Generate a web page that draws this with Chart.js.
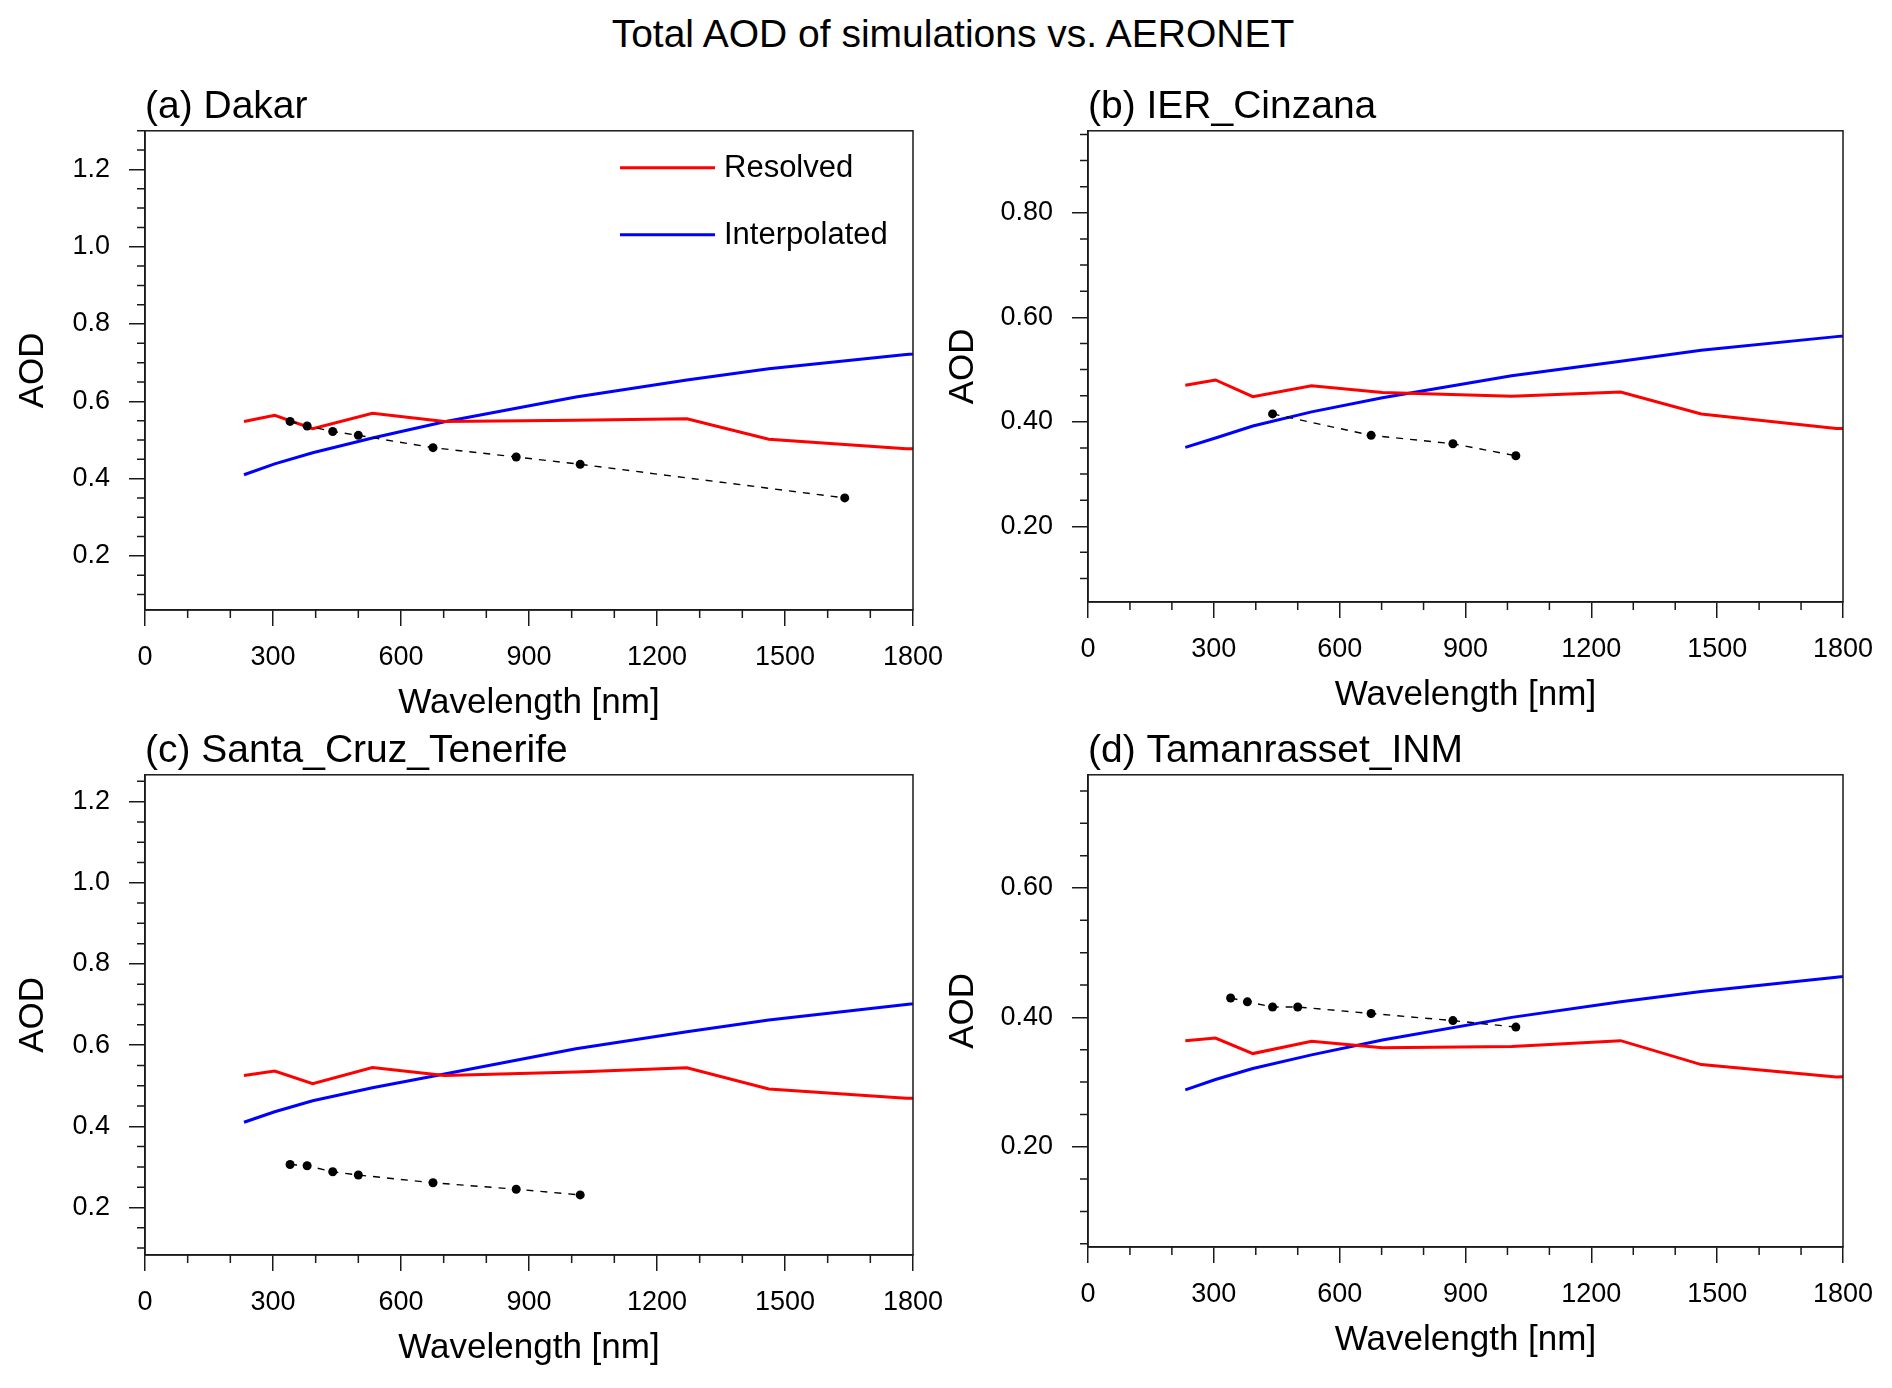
<!DOCTYPE html>
<html>
<head>
<meta charset="utf-8">
<title>Total AOD of simulations vs. AERONET</title>
<script src="https://cdn.jsdelivr.net/npm/chart.js@4.4.1/dist/chart.umd.min.js"></script>
<style>
  html, body { margin: 0; padding: 0; background: #fff; }
  #page { position: relative; width: 1892px; height: 1388px; overflow: hidden; font-family: "Liberation Sans", Arial, sans-serif; }
  #page canvas { position: absolute; left: 0; top: 0; }
  #mainTitle { position: absolute; left: 953px; top: 34px; transform: translate(-50%, -50%); font-size: 39px; white-space: nowrap; color: #000; }
</style>
</head>
<body>
<div id="page">
  <div id="mainTitle">Total AOD of simulations vs. AERONET</div>
  <canvas id="panelA" width="1892" height="1388"></canvas>
  <canvas id="panelB" width="1892" height="1388"></canvas>
  <canvas id="panelC" width="1892" height="1388"></canvas>
  <canvas id="panelD" width="1892" height="1388"></canvas>
</div>
<script>
// model band centres (nm), last one sits past the axis end
const modelWavelength = [232, 304, 393, 533, 702, 1010, 1270, 1462, 1784, 2151];
const wavelengthTicks = [0, 300, 600, 900, 1200, 1500, 1800];

// (a) Dakar
const dakarResolved = [0.548, 0.564, 0.529, 0.569, 0.548, 0.551, 0.555, 0.502, 0.477, 0.482];
const dakarInterpolated = [0.410, 0.438, 0.467, 0.505, 0.547, 0.611, 0.655, 0.684, 0.721, 0.758];
const dakarAeronetWl = [340, 380, 440, 500, 675, 870, 1020, 1640];
const dakarAeronet = [0.548, 0.536, 0.522, 0.512, 0.480, 0.456, 0.437, 0.350];
const dakarTicks = [0.2, 0.4, 0.6, 0.8, 1.0, 1.2];

// (b) IER_Cinzana
const cinzanaResolved = [0.470, 0.480, 0.448, 0.469, 0.456, 0.449, 0.457, 0.415, 0.387, 0.392];
const cinzanaInterpolated = [0.351, 0.369, 0.392, 0.419, 0.446, 0.488, 0.516, 0.537, 0.563, 0.586];
const cinzanaAeronetWl = [440, 675, 870, 1020];
const cinzanaAeronet = [0.415, 0.374, 0.358, 0.335];
const cinzanaTicks = [0.20, 0.40, 0.60, 0.80];

// (c) Santa_Cruz_Tenerife
const tenerifeResolved = [0.525, 0.536, 0.505, 0.545, 0.525, 0.534, 0.544, 0.492, 0.469, 0.474];
const tenerifeInterpolated = [0.410, 0.436, 0.463, 0.495, 0.529, 0.591, 0.633, 0.662, 0.700, 0.741];
const tenerifeAeronetWl = [340, 380, 440, 500, 675, 870, 1020];
const tenerifeAeronet = [0.306, 0.303, 0.288, 0.280, 0.261, 0.245, 0.231];
const tenerifeTicks = [0.2, 0.4, 0.6, 0.8, 1.0, 1.2];

// (d) Tamanrasset_INM
const tamanrassetResolved = [0.364, 0.368, 0.344, 0.363, 0.353, 0.355, 0.364, 0.327, 0.308, 0.313];
const tamanrassetInterpolated = [0.288, 0.304, 0.321, 0.342, 0.365, 0.400, 0.424, 0.440, 0.462, 0.486];
const tamanrassetAeronetWl = [340, 380, 440, 500, 675, 870, 1020];
const tamanrassetAeronet = [0.430, 0.424, 0.416, 0.416, 0.406, 0.395, 0.385];
const tamanrassetTicks = [0.20, 0.40, 0.60];

const AXIS_COLOR = '#1a1a1a';
const MINOR_LEN = 8;

Chart.defaults.font.family = '"Liberation Sans", Arial, sans-serif';
Chart.defaults.color = '#000';

// box round the plot + minor tick marks (100 nm on x, 0.05 on y)
const frameAndMinorTicks = {
    id: 'frameAndMinorTicks',
    afterDatasetsDraw(chart) {
        const { ctx, chartArea: a, scales: { x, y } } = chart;
        ctx.save();
        ctx.strokeStyle = AXIS_COLOR;
        ctx.lineWidth = 1.5;
        ctx.strokeRect(a.left, a.top, a.right - a.left, a.bottom - a.top);
        ctx.beginPath();
        for (let v = 100; v < x.max; v += 100) {
            if (v % 300 === 0) continue;
            const px = x.getPixelForValue(v);
            ctx.moveTo(px, a.bottom);
            ctx.lineTo(px, a.bottom + MINOR_LEN);
        }
        for (let k = Math.ceil(y.min * 20); k <= Math.floor(y.max * 20); k++) {
            if (k % 4 === 0) continue;
            const py = y.getPixelForValue(k / 20);
            ctx.moveTo(a.left, py);
            ctx.lineTo(a.left - MINOR_LEN, py);
        }
        ctx.stroke();
        ctx.restore();
    }
};

// legend sitting inside the plot of panel (a)
const insideLegend = {
    id: 'insideLegend',
    afterDraw(chart, args, opts) {
        if (!opts.show) return;
        const { ctx, chartArea: a } = chart;
        ctx.save();
        ctx.font = '31px "Liberation Sans", Arial, sans-serif';
        ctx.textBaseline = 'middle';
        ctx.fillStyle = '#000';
        let row = 0;
        chart.data.datasets.forEach(ds => {
            if (!ds.inLegend) return;
            const yy = a.top + opts.top + row * opts.rowGap;
            const x0 = a.left + opts.left;
            ctx.strokeStyle = ds.borderColor;
            ctx.lineWidth = ds.borderWidth;
            ctx.beginPath();
            ctx.moveTo(x0, yy);
            ctx.lineTo(x0 + opts.lineLen, yy);
            ctx.stroke();
            ctx.fillText(ds.label, x0 + opts.lineLen + 9, yy + 1);
            row++;
        });
        ctx.restore();
    }
};

function toPoints(xs, ys) {
    return xs.map((v, i) => ({ x: v, y: ys[i] }));
}

function makePanel(canvasId, cfg) {
    const canvasContext = document.getElementById(canvasId).getContext('2d');
    new Chart(canvasContext, {
        type: 'line',
        data: {
            datasets: [
                {
                    label: 'AERONET',
                    data: toPoints(cfg.obsWl, cfg.obs),
                    borderColor: '#000',
                    backgroundColor: '#000',
                    borderWidth: 1.4,
                    borderDash: [7, 7],
                    pointRadius: 4.5,
                    pointBorderWidth: 0,
                    pointBackgroundColor: '#000',
                    order: 0
                },
                {
                    label: 'Resolved',
                    data: toPoints(modelWavelength, cfg.resolved),
                    borderColor: '#ff0000',
                    borderWidth: 3,
                    pointRadius: 0,
                    inLegend: true,
                    order: 1
                },
                {
                    label: 'Interpolated',
                    data: toPoints(modelWavelength, cfg.interpolated),
                    borderColor: '#0000ff',
                    borderWidth: 3,
                    pointRadius: 0,
                    inLegend: true,
                    order: 2
                }
            ]
        },
        options: {
            responsive: false,
            animation: false,
            devicePixelRatio: 1,
            events: [],
            layout: { padding: cfg.padding },
            scales: {
                x: {
                    type: 'linear',
                    min: 0,
                    max: 1800,
                    afterBuildTicks: s => { s.ticks = wavelengthTicks.map(v => ({ value: v })); },
                    afterFit: s => { s.height = 114; },
                    ticks: {
                        autoSkip: false,
                        maxRotation: 0,
                        padding: 15,
                        font: { size: 27 },
                        color: '#000',
                        callback: value => String(value)
                    },
                    grid: { drawOnChartArea: false, drawTicks: true, tickLength: 16, color: AXIS_COLOR, lineWidth: 1.5 },
                    border: { display: true, color: AXIS_COLOR, width: 1.5 },
                    title: { display: true, text: 'Wavelength [nm]', font: { size: 35 }, color: '#000', padding: 0 }
                },
                y: {
                    type: 'linear',
                    min: cfg.yMin,
                    max: cfg.yMax,
                    afterBuildTicks: s => { s.ticks = cfg.yTicks.map(v => ({ value: v })); },
                    afterFit: s => { s.width = cfg.yWidth; },
                    ticks: {
                        autoSkip: false,
                        padding: 19,
                        font: { size: 27 },
                        color: '#000',
                        callback: value => value.toFixed(cfg.decimals)
                    },
                    grid: { drawOnChartArea: false, drawTicks: true, tickLength: 16, color: AXIS_COLOR, lineWidth: 1.5 },
                    border: { display: true, color: AXIS_COLOR, width: 1.5 },
                    title: { display: true, text: 'AOD', font: { size: 35 }, color: '#000', padding: 0 }
                }
            },
            plugins: {
                legend: { display: false },
                tooltip: { enabled: false },
                title: {
                    display: true,
                    text: cfg.title,
                    align: 'start',
                    fullSize: false,
                    font: { size: 39, weight: 'normal' },
                    color: '#000',
                    padding: 0
                },
                insideLegend: { show: !!cfg.legend, left: 475, top: 37, rowGap: 67, lineLen: 95 }
            }
        },
        plugins: [frameAndMinorTicks, insideLegend]
    });
}

makePanel('panelA', {
    title: '(a) Dakar',
    resolved: dakarResolved, interpolated: dakarInterpolated,
    obsWl: dakarAeronetWl, obs: dakarAeronet,
    yMin: 0.06, yMax: 1.30, yTicks: dakarTicks, decimals: 1,
    yWidth: 133, legend: true,
    padding: { left: 12, top: 84, right: 979, bottom: 664 }
});

makePanel('panelB', {
    title: '(b) IER_Cinzana',
    resolved: cinzanaResolved, interpolated: cinzanaInterpolated,
    obsWl: cinzanaAeronetWl, obs: cinzanaAeronet,
    yMin: 0.055, yMax: 0.957, yTicks: cinzanaTicks, decimals: 2,
    yWidth: 146,
    padding: { left: 942, top: 84, right: 49, bottom: 672 }
});

makePanel('panelC', {
    title: '(c) Santa_Cruz_Tenerife',
    resolved: tenerifeResolved, interpolated: tenerifeInterpolated,
    obsWl: tenerifeAeronetWl, obs: tenerifeAeronet,
    yMin: 0.083, yMax: 1.266, yTicks: tenerifeTicks, decimals: 1,
    yWidth: 133,
    padding: { left: 12, top: 728, right: 979, bottom: 19 }
});

makePanel('panelD', {
    title: '(d) Tamanrasset_INM',
    resolved: tamanrassetResolved, interpolated: tamanrassetInterpolated,
    obsWl: tamanrassetAeronetWl, obs: tamanrassetAeronet,
    yMin: 0.045, yMax: 0.775, yTicks: tamanrassetTicks, decimals: 2,
    yWidth: 146,
    padding: { left: 942, top: 728, right: 49, bottom: 27 }
});
</script>
</body>
</html>
